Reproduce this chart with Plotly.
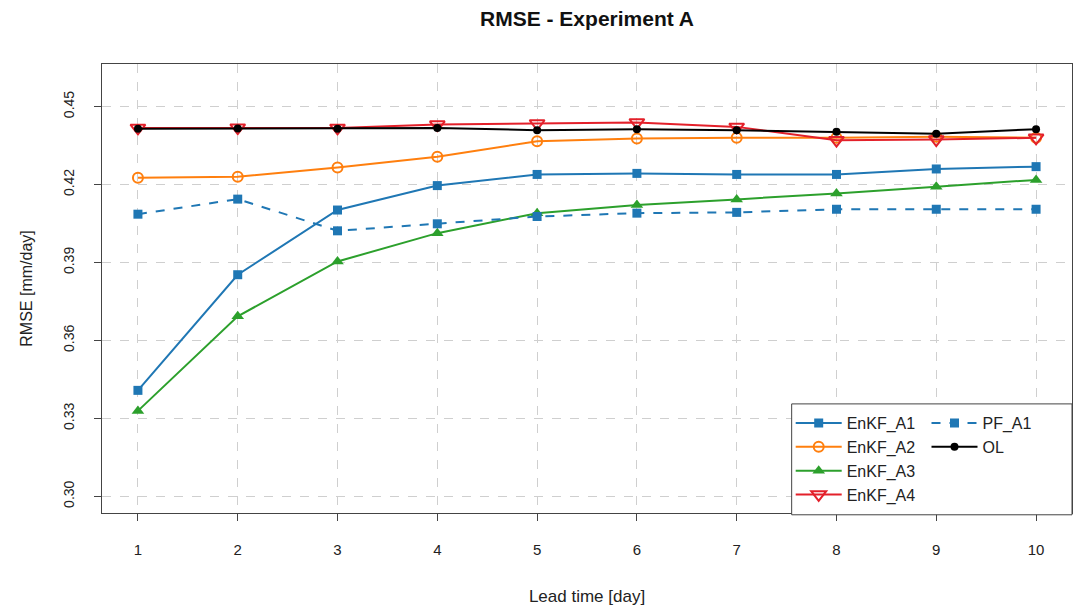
import plotly.graph_objects as go

lead_time = [1, 2, 3, 4, 5, 6, 7, 8, 9, 10]
enkf_a1 = [0.3408, 0.3853, 0.4102, 0.4196, 0.4239, 0.4243, 0.4239, 0.4239, 0.4260, 0.4269]
enkf_a2 = [0.4226, 0.4230, 0.4266, 0.4307, 0.4367, 0.4377, 0.4380, 0.4380, 0.4384, 0.4380]
enkf_a3 = [0.3329, 0.3693, 0.3904, 0.4013, 0.4090, 0.4121, 0.4143, 0.4166, 0.4192, 0.4218]
enkf_a4 = [0.4418, 0.4419, 0.4418, 0.4431, 0.4435, 0.4439, 0.4422, 0.4371, 0.4373, 0.4380]
pf_a1 = [0.4086, 0.4144, 0.4022, 0.4049, 0.4077, 0.4090, 0.4093, 0.4105, 0.4105, 0.4105]
ol = [0.4415, 0.4416, 0.4415, 0.4418, 0.4409, 0.4413, 0.4409, 0.4403, 0.4396, 0.4413]
y_ticks = [0.30, 0.33, 0.36, 0.39, 0.42, 0.45]
y_tick_labels = ["0.30", "0.33", "0.36", "0.39", "0.42", "0.45"]

BLUE, ORANGE, GREEN, RED, BLACK = "#1f77b4", "#ff7f0e", "#2ca02c", "#e3202a", "#000000"

fig = go.Figure()
fig.add_trace(go.Scatter(x=lead_time, y=enkf_a1, name="EnKF_A1", mode="lines+markers",
                         line=dict(color=BLUE, width=2),
                         marker=dict(symbol="square", size=9, color=BLUE), legend="legend"))
fig.add_trace(go.Scatter(x=lead_time, y=enkf_a2, name="EnKF_A2", mode="lines+markers",
                         line=dict(color=ORANGE, width=2),
                         marker=dict(symbol="circle-open", size=10, color=ORANGE, line=dict(width=2)),
                         legend="legend"))
fig.add_trace(go.Scatter(x=lead_time, y=enkf_a3, name="EnKF_A3", mode="lines+markers",
                         line=dict(color=GREEN, width=2),
                         marker=dict(symbol="triangle-up", size=11, color=GREEN), legend="legend"))
fig.add_trace(go.Scatter(x=lead_time, y=enkf_a4, name="EnKF_A4", mode="lines+markers",
                         line=dict(color=RED, width=2),
                         marker=dict(symbol="triangle-down-open", size=13, color=RED, line=dict(width=2)),
                         legend="legend"))
fig.add_trace(go.Scatter(x=lead_time, y=pf_a1, name="PF_A1", mode="lines+markers",
                         line=dict(color=BLUE, width=2, dash="dash"),
                         marker=dict(symbol="square", size=9, color=BLUE), legend="legend2"))
fig.add_trace(go.Scatter(x=lead_time, y=ol, name="OL", mode="lines+markers",
                         line=dict(color=BLACK, width=2),
                         marker=dict(symbol="circle", size=8, color=BLACK), legend="legend2"))

axis_common = dict(showline=True, linecolor="#444", linewidth=1, mirror=True,
                   ticks="outside", ticklen=7, tickcolor="#444",
                   showgrid=True, gridcolor="#cfcfcf", griddash="dash", gridwidth=1,
                   zeroline=False, automargin=False)

fig.update_layout(
    width=1079, height=606,
    margin=dict(l=102, r=7, t=64, b=93),
    paper_bgcolor="white", plot_bgcolor="white",
    font=dict(family="Liberation Sans, Arial, sans-serif", color="#222"),
    title=dict(text="<b>RMSE - Experiment A</b>", x=0.5, xref="paper", xanchor="center",
               y=0.97, yanchor="middle", font=dict(size=21, color="#111")),
    xaxis=dict(range=[0.64, 10.36], tickvals=lead_time, ticktext=[str(v) for v in lead_time],
               tickfont=dict(size=15), ticklabelstandoff=16,
               title=dict(text="Lead time [day]", font=dict(size=17), standoff=36),
               **axis_common),
    yaxis=dict(range=[0.2936, 0.4664], tickvals=y_ticks, ticktext=y_tick_labels, tickangle=-90,
               tickfont=dict(size=14), ticklabelstandoff=14,
               title=dict(text="RMSE [mm/day]", font=dict(size=16), standoff=24),
               **axis_common),
    legend=dict(x=0.710, y=0.238, xanchor="left", yanchor="top", bgcolor="rgba(0,0,0,0)",
                borderwidth=0, font=dict(size=16), tracegroupgap=0, itemwidth=46),
    legend2=dict(x=0.850, y=0.238, xanchor="left", yanchor="top", bgcolor="rgba(0,0,0,0)",
                 borderwidth=0, font=dict(size=16), tracegroupgap=0, itemwidth=46),
    shapes=[dict(type="rect", xref="paper", yref="paper", x0=0.711, x1=1.0, y0=-0.004, y1=0.243,
                 line=dict(color="#444", width=1), fillcolor="white", layer="above")],
)

fig.write_html("out.html")
